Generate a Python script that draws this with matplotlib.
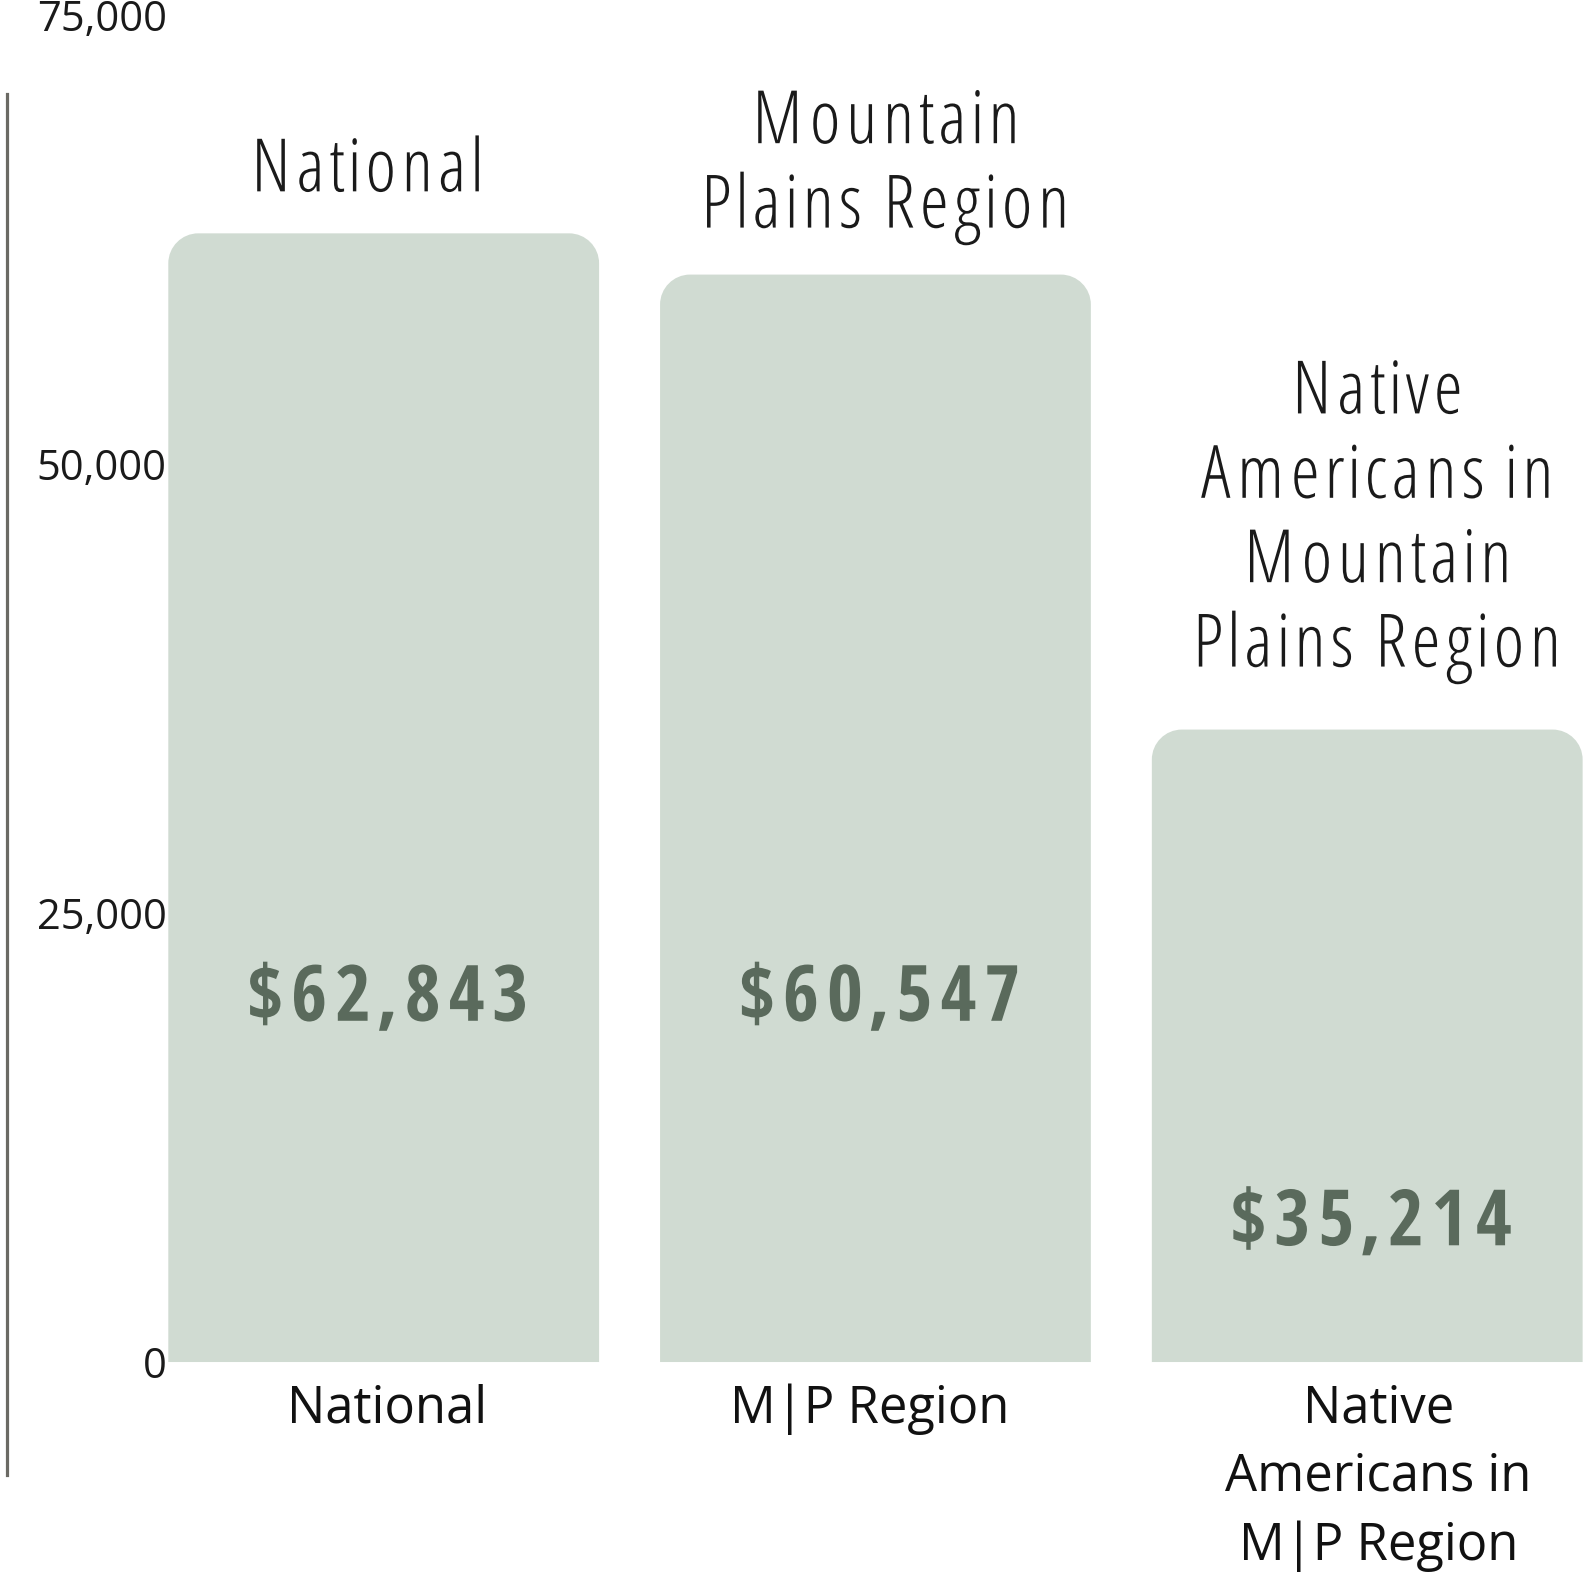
import numpy as np
import matplotlib
matplotlib.use("Agg")
import matplotlib.pyplot as plt
from matplotlib.path import Path
from matplotlib.patches import PathPatch
from matplotlib.patheffects import AbstractPathEffect
from matplotlib.transforms import IdentityTransform

# ---------------------------------------------------------------------------
# data
# ---------------------------------------------------------------------------
categories = ["National", "M|P Region", "Native\nAmericans in\nM|P Region"]
titles = ["National", "Mountain\nPlains Region",
          "Native\nAmericans in\nMountain\nPlains Region"]
incomes = [62843, 60547, 35214]
yticks = [0, 25000, 50000, 75000]

# layout / style
W, H = 1590, 1576
BAR_COLOR = "#d0dbd2"
VALUE_COLOR = "#5a6a5c"
AXIS_COLOR = "#6b6a64"
value_label_y = [19000, 19000, 6500]     # baseline of the dollar labels
title_pad_px = [24, 29, 45]              # gap between bar top and title
title_dx_px = [-17, 10, 10]
cat_dx_px = [3, -6, 11]
bar_width = 0.876
corner_px = 30

TITLE_FONT = dict(family="Open Sans", stretch="condensed", weight="light")
VALUE_FONT = dict(family="Open Sans Condensed", weight="bold")


class Tracking(AbstractPathEffect):
    """Spread the glyphs of a line apart (letter-spacing) without
    changing their shapes."""

    def __init__(self, factor):
        super().__init__()
        self.factor = factor

    def draw_path(self, renderer, gc, tpath, affine, rgbFace=None):
        codes = tpath.codes
        if codes is None or len(tpath.vertices) == 0:
            renderer.draw_path(gc, tpath, affine, rgbFace)
            return
        verts = affine.transform(tpath.vertices)
        real = codes != Path.CLOSEPOLY
        cx = (verts[real, 0].min() + verts[real, 0].max()) / 2
        starts = list(np.flatnonzero(codes == Path.MOVETO)) + [len(codes)]
        new = verts.copy()
        for a, b in zip(starts[:-1], starts[1:]):
            seg = verts[a:b][real[a:b]]
            c = (seg[:, 0].min() + seg[:, 0].max()) / 2
            new[a:b, 0] += (self.factor - 1) * (c - cx)
        renderer.draw_path(gc, Path(new, codes), IdentityTransform(), rgbFace)


fig = plt.figure(figsize=(W / 100, H / 100), dpi=100)
fig.patch.set_facecolor("white")
ax = fig.add_axes([7 / W, (H - 1475) / H, (W - 7) / W, (1475 - 15) / H])
ax.set_xlim(-0.766, 2.453)
ax.set_ylim(-6290, 75000)

# pixel -> data scale for the rounded corners
fig.canvas.draw()
inv = ax.transData.inverted()
p0 = inv.transform((0, 0))
p1 = inv.transform((corner_px, corner_px))
rx, ry = p1[0] - p0[0], p1[1] - p0[1]
k = 0.5523


def rounded_bar(xc, h):
    x0, x1 = xc - bar_width / 2, xc + bar_width / 2
    verts = [
        (x0, 0), (x0, h - ry),
        (x0, h - ry + k * ry), (x0 + rx - k * rx, h), (x0 + rx, h),
        (x1 - rx, h),
        (x1 - rx + k * rx, h), (x1, h - ry + k * ry), (x1, h - ry),
        (x1, 0), (x0, 0),
    ]
    codes = [Path.MOVETO, Path.LINETO,
             Path.CURVE4, Path.CURVE4, Path.CURVE4,
             Path.LINETO,
             Path.CURVE4, Path.CURVE4, Path.CURVE4,
             Path.LINETO, Path.CLOSEPOLY]
    return PathPatch(Path(verts, codes), facecolor=BAR_COLOR, edgecolor="none")


for i, v in enumerate(incomes):
    ax.add_patch(rounded_bar(i, v))
    ax.annotate(f"${v:,}", xy=(i, value_label_y[i]), xytext=(4 * 0.72, 0),
                textcoords="offset points", ha="center", va="baseline",
                fontsize=56, color=VALUE_COLOR, **VALUE_FONT,
                path_effects=[Tracking(1.22)])
    ax.annotate(titles[i], xy=(i, v),
                xytext=(title_dx_px[i] * 0.72, title_pad_px[i] * 0.72),
                textcoords="offset points", ha="center", va="bottom",
                multialignment="center",
                fontsize=53, color="#1a1a1a", linespacing=1.175, **TITLE_FONT,
                path_effects=[Tracking(1.18)])
    # category label under the bar
    ax.annotate(categories[i], xy=(i, 0),
                xytext=(cat_dx_px[i] * 0.72, -21 * 0.72),
                textcoords="offset points", ha="center", va="top",
                multialignment="center", family="Open Sans", fontsize=36.5,
                color="#111111", linespacing=1.45, annotation_clip=False)

# axes styling
for s in ["top", "right", "bottom"]:
    ax.spines[s].set_visible(False)
ax.spines["left"].set_color(AXIS_COLOR)
ax.spines["left"].set_linewidth(2.3)
ax.spines["left"].set_bounds(-6290, 70578)

ax.set_yticks(yticks)
ax.set_yticklabels([f"{t:,}" for t in yticks], family="Open Sans",
                   fontsize=30, color="#1a1a1a")
ax.tick_params(axis="y", length=0, pad=-115)
for lab in ax.get_yticklabels():
    lab.set_horizontalalignment("right")

ax.set_xticks([])

fig.savefig("out.png", dpi=100, facecolor="white")
